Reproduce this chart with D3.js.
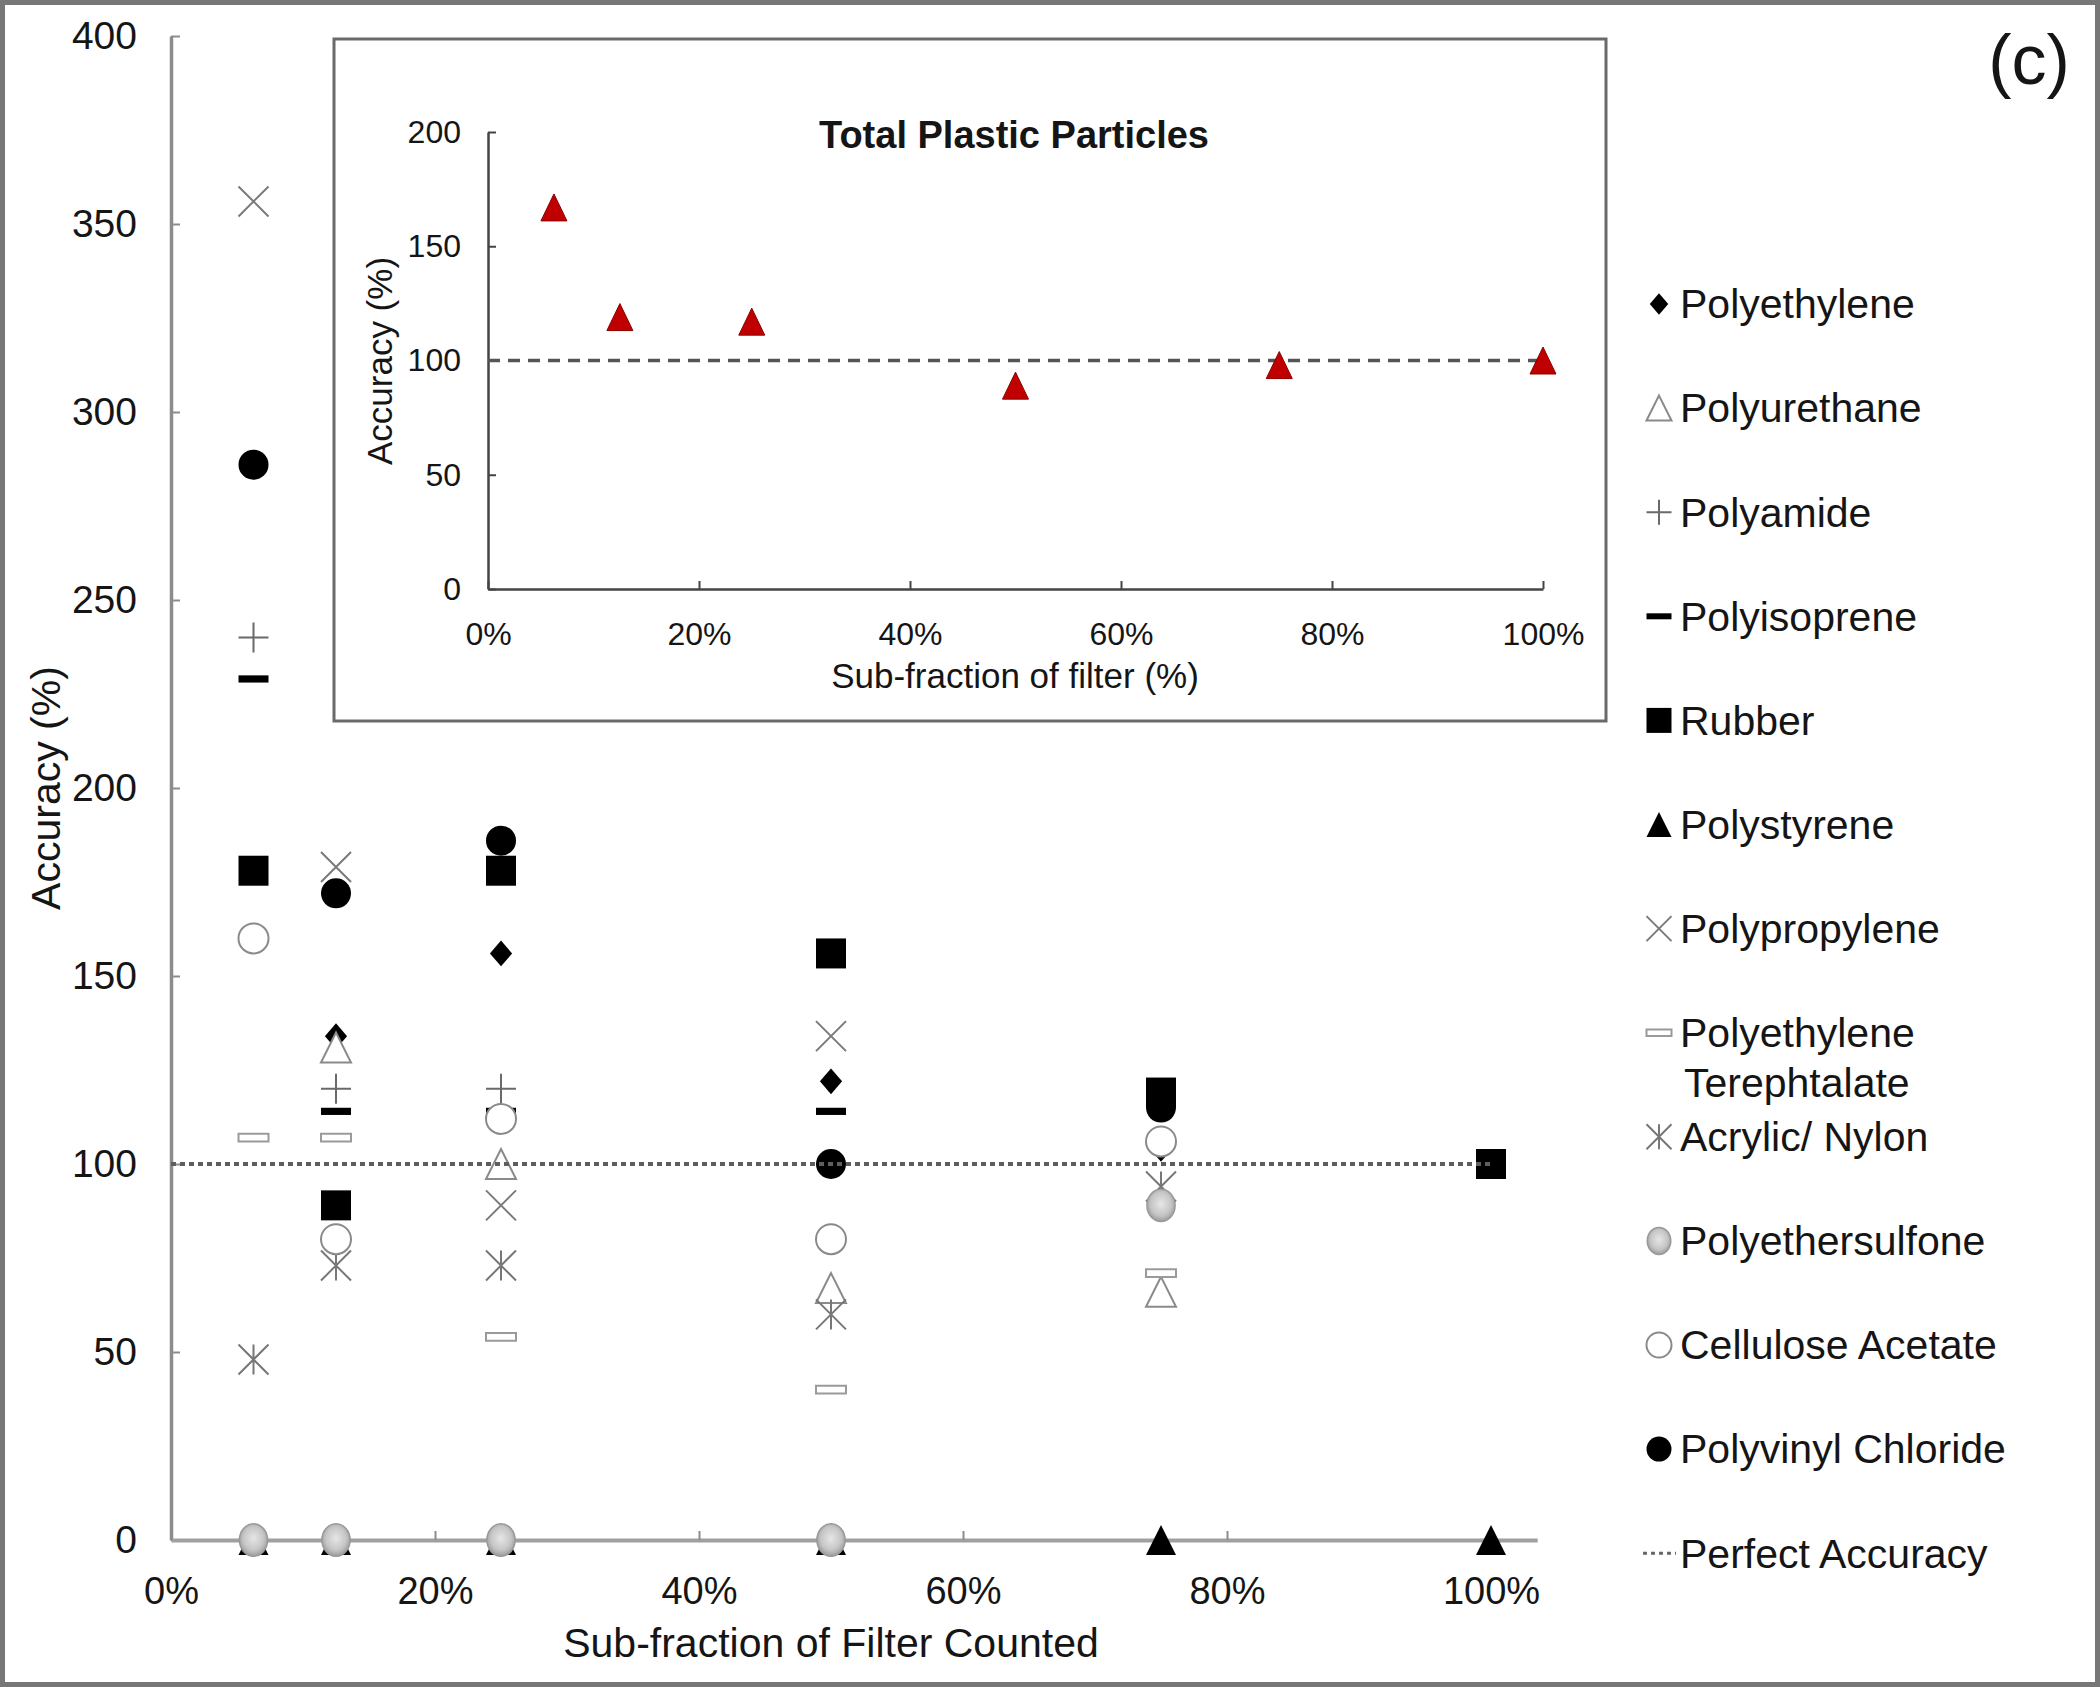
<!DOCTYPE html>
<html><head><meta charset="utf-8">
<script src="https://cdn.jsdelivr.net/npm/d3@7"></script>
<style>
body{margin:0;background:#fff}
svg{display:block}
text{font-family:"Liberation Sans",Arial,Helvetica,sans-serif;fill:#151515}
</style>
</head><body>
<svg id="chart" width="2100" height="1687"></svg>
<script>
// ---------------- DATA ----------------
const fractions = [0.0625, 0.125, 0.25, 0.5, 0.75, 1.0];
const polyethylene     = [null, 134, 156, 122, 104, null];
const polyurethane     = [null, 131, 100, 67, 66, null];
const polyamide        = [240, 120, 120, null, null, null];
const polyisoprene     = [229, 114, 114, 114, null, null];
const rubber           = [178, 89, 178, 156, 119, 100];
const polystyrene      = [0, 0, 0, 0, 0, 0];
const polypropylene    = [356, 179, 89, 134, null, null];
const polyethyleneTerephtalate = [107, 107, 54, 40, 71, null];
const acrylicNylon     = [48, 73, 73, 60, 94, null];
const polyethersulfone = [0, 0, 0, 0, 89, null];
const celluloseAcetate = [160, 80, 112, 80, 106, null];
const polyvinylChloride= [286, 172, 186, 100, 115, null];
const perfectAccuracy  = 100;

const seriesNames = ["Polyethylene","Polyurethane","Polyamide","Polyisoprene","Rubber","Polystyrene",
  "Polypropylene","Polyethylene Terephtalate","Acrylic/ Nylon","Polyethersulfone","Cellulose Acetate","Polyvinyl Chloride"];
const seriesValues = [polyethylene, polyurethane, polyamide, polyisoprene, rubber, polystyrene,
  polypropylene, polyethyleneTerephtalate, acrylicNylon, polyethersulfone, celluloseAcetate, polyvinylChloride];

const totalFractions = [0.0625, 0.125, 0.25, 0.5, 0.75, 1.0];
const totalPlasticParticles = [167, 119, 117, 89, 98, 100];

const mainYTicks = [0, 50, 100, 150, 200, 250, 300, 350, 400];
const xTicks = [0, 0.2, 0.4, 0.6, 0.8, 1.0];
const insetYTicks = [0, 50, 100, 150, 200];

// ---------------- STYLES ----------------
const markerTypes = ["diamond","triOpen","plus","dash","square","triFill","cross","petRect","asterisk","pes","circOpen","circFill"];
const markerStyle = {
  diamond:  {fill:"#000", stroke:"none", sw:0},
  triOpen:  {fill:"#fff", stroke:"#8a8a8a", sw:2},
  plus:     {fill:"none", stroke:"#6a6a6a", sw:2},
  dash:     {fill:"#000", stroke:"none", sw:0},
  square:   {fill:"#000", stroke:"none", sw:0},
  triFill:  {fill:"#000", stroke:"none", sw:0},
  cross:    {fill:"none", stroke:"#7a7a7a", sw:2},
  petRect:  {fill:"#fff", stroke:"#9a9a9a", sw:2},
  asterisk: {fill:"none", stroke:"#777", sw:2},
  pes:      {fill:"url(#pesGrad)", stroke:"#999", sw:1.5},
  circOpen: {fill:"#fff", stroke:"#8a8a8a", sw:2},
  circFill: {fill:"#000", stroke:"none", sw:0}
};

function markerPath(type, s) {
  const h = s / 2;
  switch (type) {
    case "diamond": { const w = s*0.37, v = s*0.43; return `M0,${-v}L${w},0L0,${v}L${-w},0Z`; }
    case "triOpen":
    case "triFill": return `M0,${-h}L${h},${h}L${-h},${h}Z`;
    case "plus": return `M${-h},0H${h}M0,${-h}V${h}`;
    case "dash": { const t = s*0.12; return `M${-h},${-t}H${h}V${t}H${-h}Z`; }
    case "square": return `M${-h},${-h}H${h}V${h}H${-h}Z`;
    case "cross": return `M${-h},${-h}L${h},${h}M${h},${-h}L${-h},${h}`;
    case "petRect": { const t = s*0.13; return `M${-h},${-t}H${h}V${t}H${-h}Z`; }
    case "asterisk": return `M${-h},${-h}L${h},${h}M${h},${-h}L${-h},${h}M0,${-h}V${h}`;
    case "pes": { const r = s*0.47; return `M${-r},0A${r},${r*1.15} 0 1,0 ${r},0A${r},${r*1.15} 0 1,0 ${-r},0Z`; }
    case "circOpen":
    case "circFill": { const r = h; return `M${-r},0A${r},${r} 0 1,0 ${r},0A${r},${r} 0 1,0 ${-r},0Z`; }
  }
}
function styleMarker(sel, type) {
  const st = markerStyle[type];
  sel.attr("fill", st.fill).attr("stroke", st.stroke).attr("stroke-width", st.sw);
}

// ---------------- SVG ----------------
const svg = d3.select("#chart");
const defs = svg.append("defs");
const grad = defs.append("radialGradient").attr("id","pesGrad").attr("cx","50%").attr("cy","45%").attr("r","55%");
grad.append("stop").attr("offset","0%").attr("stop-color","#e6e6e6");
grad.append("stop").attr("offset","65%").attr("stop-color","#c6c6c6");
grad.append("stop").attr("offset","100%").attr("stop-color","#9c9c9c");

svg.append("rect").attr("x",0).attr("y",0).attr("width",2100).attr("height",1687).attr("fill","#fff");

// main scales
const x = d3.scaleLinear().domain([0, 1.035]).range([171, 171 + 1.035*1320]);
const y = d3.scaleLinear().domain([0, 400]).range([1540, 36]);

// main y axis
const gy = svg.append("g").attr("transform", `translate(${x(0)},0)`)
  .call(d3.axisLeft(y).tickValues(mainYTicks).tickFormat(d3.format("d")).tickSizeInner(-9).tickSizeOuter(0).tickPadding(34));
gy.select(".domain").attr("stroke","#8c8c8c").attr("stroke-width",3.5);
gy.selectAll(".tick line").attr("stroke","#8c8c8c").attr("stroke-width",2);
gy.selectAll(".tick text").attr("font-size",39).attr("fill","#151515").attr("font-family",'"Liberation Sans",Arial,sans-serif');

// main x axis
const gx = svg.append("g").attr("transform", `translate(0,${y(0)})`)
  .call(d3.axisBottom(x).tickValues(xTicks).tickFormat(d3.format(".0%")).tickSizeInner(-9).tickSizeOuter(0).tickPadding(37));
gx.select(".domain").attr("stroke","#a0a0a0").attr("stroke-width",4);
gx.selectAll(".tick line").attr("stroke","#8c8c8c").attr("stroke-width",2);
gx.selectAll(".tick text").attr("font-size",38).attr("fill","#151515").attr("font-family",'"Liberation Sans",Arial,sans-serif');

// axis titles
svg.append("text").attr("transform",`translate(60,${(y(0)+y(400))/2}) rotate(-90)`)
  .attr("text-anchor","middle").attr("font-size",41).text("Accuracy (%)");
svg.append("text").attr("x",(x(0)+x(1))/2).attr("y",1657)
  .attr("text-anchor","middle").attr("font-size",41).text("Sub-fraction of Filter Counted");

// markers
const MS = 30;
seriesValues.forEach((vals, si) => {
  const type = markerTypes[si];
  const pts = fractions.map((f,i)=>({f, v: vals[i]})).filter(d => d.v !== null);
  const g = svg.append("g").attr("class","series");
  g.selectAll("path").data(pts).enter().append("path")
    .attr("transform", d => `translate(${x(d.f)},${y(d.v)})`)
    .attr("d", markerPath(type, MS))
    .call(styleMarker, type);
});

// perfect accuracy line
svg.append("line").attr("x1", x(0)).attr("x2", x(1)).attr("y1", y(perfectAccuracy)).attr("y2", y(perfectAccuracy))
  .attr("stroke","#5e5e5e").attr("stroke-width",4).attr("stroke-dasharray","5,4");

// ---------------- INSET ----------------
svg.append("rect").attr("x",334).attr("y",39).attr("width",1272).attr("height",682)
  .attr("fill","#fff").attr("stroke","#6a6a6a").attr("stroke-width",3);

const ix = d3.scaleLinear().domain([0,1]).range([488, 1543]);
const iy = d3.scaleLinear().domain([0,200]).range([589, 132]);

const igy = svg.append("g").attr("transform",`translate(${ix(0)},0)`)
  .call(d3.axisLeft(iy).tickValues(insetYTicks).tickFormat(d3.format("d")).tickSizeInner(-8).tickSizeOuter(0).tickPadding(27));
igy.select(".domain").attr("stroke","#444").attr("stroke-width",2.5);
igy.selectAll(".tick line").attr("stroke","#444").attr("stroke-width",2);
igy.selectAll(".tick text").attr("font-size",32).attr("fill","#151515").attr("font-family",'"Liberation Sans",Arial,sans-serif');

const igx = svg.append("g").attr("transform",`translate(0,${iy(0)})`)
  .call(d3.axisBottom(ix).tickValues(xTicks).tickFormat(d3.format(".0%")).tickSizeInner(-8).tickSizeOuter(0).tickPadding(33));
igx.select(".domain").attr("stroke","#444").attr("stroke-width",2.5);
igx.selectAll(".tick line").attr("stroke","#444").attr("stroke-width",2);
igx.selectAll(".tick text").attr("font-size",32).attr("fill","#151515").attr("font-family",'"Liberation Sans",Arial,sans-serif');

svg.append("line").attr("x1",ix(0)).attr("x2",ix(1)).attr("y1",iy(100)).attr("y2",iy(100))
  .attr("stroke","#555").attr("stroke-width",3.5).attr("stroke-dasharray","12,8");

svg.append("g").selectAll("path").data(totalFractions.map((f,i)=>({f, v: totalPlasticParticles[i]})))
  .enter().append("path")
  .attr("transform", d => `translate(${ix(d.f)},${iy(d.v)})`)
  .attr("d", "M0,-13.5L13,13.5L-13,13.5Z")
  .attr("fill","#c00000").attr("stroke","#8a0000").attr("stroke-width",1);

svg.append("text").attr("x",1014).attr("y",148).attr("text-anchor","middle")
  .attr("font-size",38).attr("font-weight","bold").text("Total Plastic Particles");
svg.append("text").attr("transform",`translate(392,361) rotate(-90)`).attr("text-anchor","middle")
  .attr("font-size",35).text("Accuracy (%)");
svg.append("text").attr("x",1015).attr("y",688).attr("text-anchor","middle")
  .attr("font-size",35).text("Sub-fraction of filter (%)");

// ---------------- LEGEND ----------------
const legendNames = seriesNames.concat(["Perfect Accuracy"]);
const LX = 1659, TX = 1680, LY0 = 304, LDY = 104.1;
const lg = svg.append("g");
legendNames.forEach((name, i) => {
  const cy = LY0 + i*LDY;
  if (i < markerTypes.length) {
    const type = markerTypes[i];
    lg.append("path").attr("transform",`translate(${LX},${cy})`).attr("d", markerPath(type, 25)).call(styleMarker, type);
  } else {
    lg.append("line").attr("x1",1643).attr("x2",1676).attr("y1",cy).attr("y2",cy)
      .attr("stroke","#666").attr("stroke-width",3).attr("stroke-dasharray","4,4");
  }
  const t = lg.append("text").attr("x",TX).attr("y",cy).attr("dy","0.35em").attr("font-size",41);
  if (name === "Polyethylene Terephtalate") {
    t.append("tspan").attr("x",TX).text("Polyethylene");
    t.append("tspan").attr("x",TX+4).attr("dy",50).text("Terephtalate");
  } else {
    t.text(name);
  }
});

// panel label
svg.append("text").attr("x",2029).attr("y",84).attr("text-anchor","middle").attr("font-size",70).text("(c)");

// outer frame
svg.append("rect").attr("x",2.5).attr("y",2.5).attr("width",2095).attr("height",1682)
  .attr("fill","none").attr("stroke","#777").attr("stroke-width",5);
</script>
</body></html>
